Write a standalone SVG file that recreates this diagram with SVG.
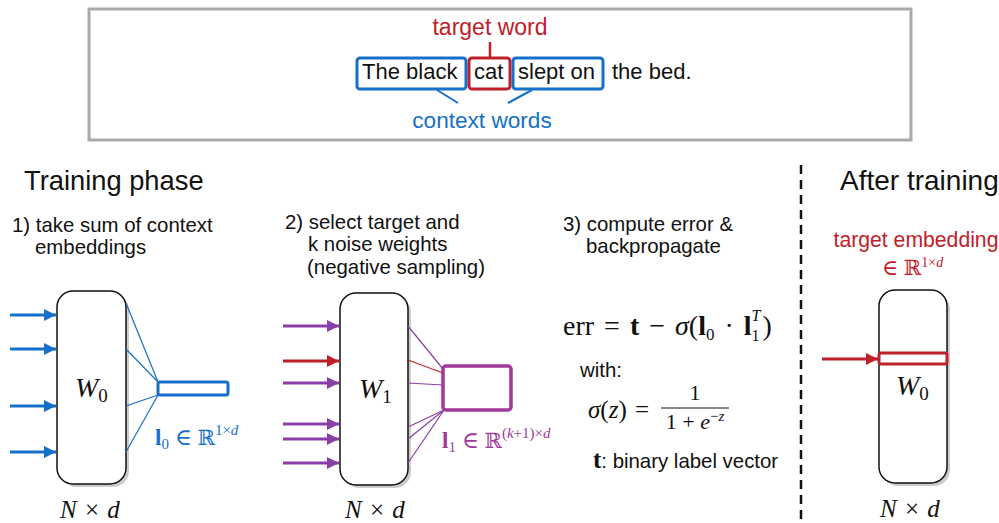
<svg xmlns="http://www.w3.org/2000/svg" width="999" height="523" viewBox="0 0 999 523">
<defs>
<style>
.s{font-family:"Liberation Sans",Arial,sans-serif;fill:#111}
.m{font-family:"Liberation Serif","DejaVu Serif",serif;fill:#111}
.bb{font-family:"DejaVu Serif",serif}
.blue{fill:#1470c8}
.red{fill:#c0202a}
.pur{fill:#a2389a}
.box{fill:#fff;stroke:#111;stroke-width:1.5}
.shadow{fill:#999;opacity:0.5}
</style>
<marker id="ab" viewBox="0 0 10 10" refX="10" refY="5" markerWidth="5" markerHeight="4" markerUnits="strokeWidth" orient="auto"><path d="M0,0L10,5L0,10z" fill="#1470c8"/></marker>
<marker id="ap" viewBox="0 0 10 10" refX="10" refY="5" markerWidth="5" markerHeight="4" markerUnits="strokeWidth" orient="auto"><path d="M0,0L10,5L0,10z" fill="#8a3fa8"/></marker>
<marker id="ar" viewBox="0 0 10 10" refX="10" refY="5" markerWidth="5" markerHeight="4" markerUnits="strokeWidth" orient="auto"><path d="M0,0L10,5L0,10z" fill="#c0202a"/></marker>
</defs>
<rect width="999" height="523" fill="#fff"/>

<g id="sentence">
<rect x="89" y="9" width="822" height="131" fill="none" stroke="#aaa" stroke-width="3"/>
<text x="490" y="35" text-anchor="middle" font-size="23" class="s red">target word</text>
<line x1="490" y1="42" x2="490" y2="58" stroke="#c0202a" stroke-width="2.5"/>
<rect x="357" y="58" width="109" height="31" rx="3" fill="none" stroke="#1470c8" stroke-width="3"/>
<rect x="469" y="58" width="41" height="31" rx="3" fill="none" stroke="#c0202a" stroke-width="3"/>
<rect x="513" y="58" width="90" height="31" rx="3" fill="none" stroke="#1470c8" stroke-width="3"/>
<text x="362" y="79" font-size="22" class="s">The black</text>
<text x="474" y="79" font-size="22" class="s">cat</text>
<text x="518" y="79" font-size="22" class="s">slept on</text>
<text x="612" y="79" font-size="22" class="s">the bed.</text>
<line x1="437" y1="90" x2="458" y2="103" stroke="#1470c8" stroke-width="2"/>
<line x1="532" y1="90" x2="508" y2="103" stroke="#1470c8" stroke-width="2"/>
<text x="482" y="128" text-anchor="middle" font-size="22.6" class="s blue">context words</text>
</g>

<g id="headings">
<text x="24" y="190" font-size="27.3" class="s">Training phase</text>
<text x="840" y="190" font-size="28" class="s">After training</text>
<text x="12" y="232" font-size="20.4" class="s">1) take sum of context</text>
<text x="35" y="254" font-size="20.4" class="s">embeddings</text>
<text x="285" y="229" font-size="20.4" class="s">2) select target and</text>
<text x="308" y="251" font-size="20.4" class="s">k noise weights</text>
<text x="307" y="274" font-size="20.4" class="s">(negative sampling)</text>
<text x="563" y="231" font-size="20.4" class="s">3) compute error &amp;</text>
<text x="586" y="253" font-size="20.4" class="s">backpropagate</text>
<line x1="801" y1="165" x2="801" y2="522" stroke="#111" stroke-width="2.5" stroke-dasharray="9,6"/>
</g>

<g id="W0">
<rect x="60" y="294" width="69" height="193" rx="16" class="shadow"/>
<rect x="57" y="291" width="69" height="193" rx="16" class="box"/>
<text x="75" y="397" font-size="28" class="m" font-style="italic">W<tspan font-size="19" font-style="normal" dy="5">0</tspan></text>
<text x="60" y="518" font-size="25" class="m" word-spacing="2"><tspan font-style="italic">N</tspan> × <tspan font-style="italic">d</tspan></text>
</g>

<g id="l0">
<rect x="158" y="382" width="70" height="13" rx="2" fill="#fff" stroke="#1470c8" stroke-width="3"/>
<text x="155" y="445" font-size="23" class="m blue"><tspan font-weight="bold">l</tspan><tspan font-size="15" dy="4">0</tspan><tspan dy="-4"> ∈ </tspan><tspan class="bb" font-size="21">ℝ</tspan><tspan font-size="15" dy="-10">1×<tspan font-style="italic">d</tspan></tspan></text>
</g>

<g id="W1">
<rect x="343" y="296" width="68" height="192" rx="16" class="shadow"/>
<rect x="340" y="293" width="68" height="192" rx="16" class="box"/>
<text x="359" y="398" font-size="28" class="m" font-style="italic">W<tspan font-size="19" font-style="normal" dy="5">1</tspan></text>
<text x="345" y="518" font-size="25" class="m" word-spacing="2"><tspan font-style="italic">N</tspan> × <tspan font-style="italic">d</tspan></text>
</g>

<g id="l1">
<rect x="443" y="366" width="68" height="44" rx="3" fill="#fff" stroke="#a2389a" stroke-width="3.5"/>
<text x="442" y="448" font-size="23" class="m pur"><tspan font-weight="bold">l</tspan><tspan font-size="15" dy="4">1</tspan><tspan dy="-4"> ∈ </tspan><tspan class="bb" font-size="21">ℝ</tspan><tspan font-size="15" dy="-10">(<tspan font-style="italic">k</tspan>+1)×<tspan font-style="italic">d</tspan></tspan></text>
</g>

<g id="formula">
<text x="563" y="335" font-size="28" class="m" word-spacing="3">err = <tspan font-weight="bold">t</tspan> − <tspan font-style="italic">σ</tspan>(<tspan font-weight="bold">l</tspan><tspan font-size="17" dy="5">0</tspan><tspan dy="-5"> · </tspan><tspan font-weight="bold">l</tspan><tspan font-size="16" dy="6">1</tspan><tspan font-size="16" font-style="italic" dx="-8" dy="-20">T</tspan><tspan dy="14" dx="2">)</tspan></text>
<text x="580" y="377" font-size="20.4" class="s">with:</text>
<text x="588" y="418" font-size="25" class="m" word-spacing="2"><tspan font-style="italic">σ</tspan>(<tspan font-style="italic">z</tspan>) =</text>
<text x="695" y="400" font-size="22" class="m" text-anchor="middle">1</text>
<line x1="661" y1="408" x2="729" y2="408" stroke="#111" stroke-width="1.2"/>
<text x="695" y="429" font-size="22" class="m" text-anchor="middle">1 + <tspan font-style="italic">e</tspan><tspan font-size="15" dy="-8">−<tspan font-style="italic">z</tspan></tspan></text>
<text x="593" y="468" font-size="20.4" class="s"><tspan class="m" font-weight="bold" font-size="25">t</tspan>: binary label vector</text>
</g>

<g id="W0after">
<rect x="882" y="293" width="68" height="193" rx="16" class="shadow"/>
<rect x="879" y="290" width="68" height="193" rx="16" class="box"/>
<rect x="879" y="353" width="68" height="11" rx="2" fill="#fff" stroke="#c0202a" stroke-width="3"/>
<text x="896" y="395" font-size="28" class="m" font-style="italic">W<tspan font-size="19" font-style="normal" dy="5">0</tspan></text>
<text x="880" y="517" font-size="25" class="m" word-spacing="2"><tspan font-style="italic">N</tspan> × <tspan font-style="italic">d</tspan></text>
<text x="916" y="247" font-size="21.2" class="s red" text-anchor="middle">target embedding</text>
<text x="882" y="275" font-size="22" class="m red">∈ <tspan class="bb" font-size="21">ℝ</tspan><tspan font-size="14" dy="-8">1×<tspan font-style="italic">d</tspan></tspan></text>
</g>

<g id="connectors" fill="none">
<g stroke="#1470c8" stroke-width="3">
<line x1="10" y1="315" x2="56" y2="315" marker-end="url(#ab)"/>
<line x1="10" y1="349" x2="56" y2="349" marker-end="url(#ab)"/>
<line x1="10" y1="406" x2="56" y2="406" marker-end="url(#ab)"/>
<line x1="10" y1="452" x2="56" y2="452" marker-end="url(#ab)"/>
</g>
<g stroke="#1470c8" stroke-width="1.2">
<line x1="126" y1="303" x2="158" y2="382"/>
<line x1="126" y1="349" x2="158" y2="382"/>
<line x1="126" y1="406" x2="158" y2="395"/>
<line x1="126" y1="452" x2="158" y2="395"/>
</g>
<g stroke="#8a3fa8" stroke-width="3">
<line x1="283" y1="326" x2="339" y2="326" marker-end="url(#ap)"/>
<line x1="283" y1="383" x2="339" y2="383" marker-end="url(#ap)"/>
<line x1="283" y1="424" x2="339" y2="424" marker-end="url(#ap)"/>
<line x1="283" y1="439" x2="339" y2="439" marker-end="url(#ap)"/>
<line x1="283" y1="463" x2="339" y2="463" marker-end="url(#ap)"/>
</g>
<line x1="283" y1="361" x2="339" y2="361" stroke="#c0202a" stroke-width="3" marker-end="url(#ar)"/>
<g stroke="#8a3fa8" stroke-width="1.2">
<line x1="408" y1="326" x2="443" y2="369"/>
<line x1="408" y1="383" x2="443" y2="385"/>
<line x1="408" y1="427" x2="444" y2="410"/>
<line x1="408" y1="439" x2="444" y2="410"/>
<line x1="408" y1="463" x2="444" y2="410"/>
</g>
<line x1="408" y1="360" x2="443" y2="373" stroke="#c0202a" stroke-width="1.2"/>
<line x1="822" y1="359" x2="878" y2="359" stroke="#c0202a" stroke-width="3" marker-end="url(#ar)"/>
</g>
</svg>
